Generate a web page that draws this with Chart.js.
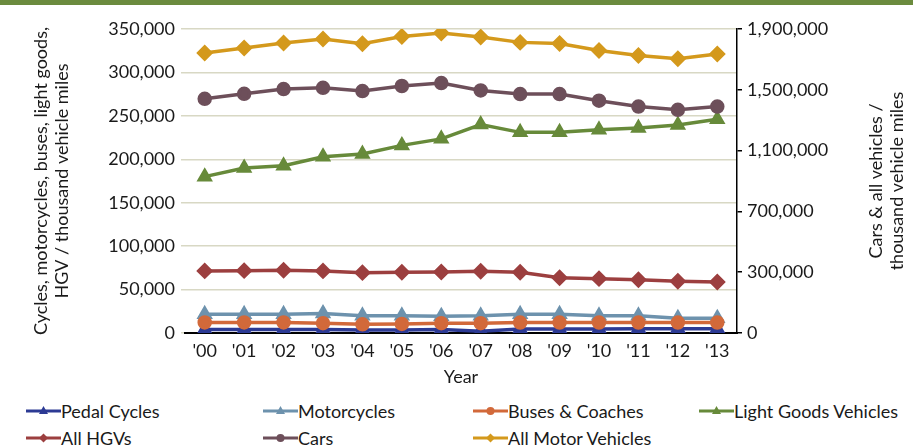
<!DOCTYPE html>
<html lang="en">
<head>
  <meta charset="UTF-8" />
  <title>Traffic by vehicle type, 2000-2013</title>
  <script src="https://cdn.jsdelivr.net/npm/chart.js@4.4.0/dist/chart.umd.min.js"></script>
  <style>
    body { margin: 0; width: 913px; height: 448px; background: #fff; position: relative; overflow: hidden; font-family: Lato, "Open Sans", sans-serif; }
    .topbar { position: absolute; left: 0; top: 0; width: 913px; height: 5px; background: #6b8b3e; z-index: 2; }
    .wrap { position: absolute; left: 0; top: 0; width: 913px; height: 398px; }
    .legend-item { position: absolute; display: flex; align-items: center; font-size: 18px; color: #1a1a1a; height: 22px; white-space: nowrap; }
  </style>
</head>
<body>
  <div class="topbar"></div>
  <div class="wrap"><canvas id="trafficChart"></canvas></div>
  <div id="legend"></div>

  <script>
    // data (thousand vehicle miles)
    const years = ["'00", "'01", "'02", "'03", "'04", "'05", "'06", "'07", "'08", "'09", "'10", "'11", "'12", "'13"];
    const pedalCycles = [4000, 4000, 4000, 4000, 3500, 3500, 4000, 2000, 4500, 4500, 4500, 5000, 5000, 5000];
    const motorcycles = [21500, 21500, 21500, 22500, 19800, 19800, 19300, 19800, 21500, 21500, 19800, 19800, 17000, 17000];
    const buses = [12200, 12200, 12200, 11300, 10000, 10500, 11300, 11300, 12000, 12000, 12000, 12000, 12000, 12000];
    const lightGoods = [180000, 190000, 192500, 203000, 206000, 216000, 223500, 240000, 231000, 231000, 234000, 236000, 239500, 246000];
    const hgvs = [71500, 71800, 72200, 71500, 69500, 70000, 70300, 71100, 70000, 63700, 62600, 61400, 59600, 58800];
    const cars = [1441000, 1474000, 1505000, 1513000, 1492000, 1525000, 1544000, 1496000, 1472000, 1472000, 1428000, 1390000, 1368000, 1390000];
    const allMotor = [1742000, 1775000, 1808000, 1834000, 1803000, 1851000, 1874000, 1847000, 1812000, 1805000, 1759000, 1726000, 1704000, 1735000];

    const leftTickLabels = ["0", "50,000", "100,000", "150,000", "200,000", "250,000", "300,000", "350,000"];
    const rightTickLabels = ["0", "300,000", "700,000", "1,100,000", "1,500,000", "1,900,000"];

    const seriesNames = ["Pedal Cycles", "Motorcycles", "Buses & Coaches", "Light Goods Vehicles", "All HGVs", "Cars", "All Motor Vehicles"];
    const seriesColors = ["#2c3a94", "#6d92ad", "#d2693a", "#678a3a", "#9c3f3f", "#6d4f5a", "#d4991c"];
    const seriesMarkers = ["triangle", "triangle", "circle", "triangle", "rectRot", "circle", "rectRot"];
    const seriesData = [pedalCycles, motorcycles, buses, lightGoods, hgvs, cars, allMotor];
    const seriesAxis = ["y", "y", "y", "y", "y", "y2", "y2"];

    const FONT = "Lato, 'Open Sans', sans-serif";
    const TEXT = "#1a1a1a";
    const GRID = "#d8d8c4";

    const datasets = seriesNames.map((name, i) => ({
      label: name,
      data: seriesData[i],
      yAxisID: seriesAxis[i],
      borderColor: seriesColors[i],
      backgroundColor: seriesColors[i],
      pointBackgroundColor: seriesColors[i],
      pointBorderColor: seriesColors[i],
      pointStyle: seriesMarkers[i],
      pointRadius: seriesMarkers[i] === "circle" ? 5.5 : 6,
      borderWidth: 3.5,
      tension: 0,
    })).reverse(); // draw the low series last so they sit on top

    // right axis title reads bottom-to-top like the left one
    const rightTitle = {
      id: "rightTitle",
      afterDraw(chart) {
        const ctx = chart.ctx;
        const area = chart.chartArea;
        const cy = (area.top + area.bottom) / 2;
        ctx.save();
        ctx.fillStyle = TEXT;
        ctx.font = "18px " + FONT;
        ctx.textAlign = "center";
        ctx.textBaseline = "middle";
        [["Cars & all vehicles /", 876], ["thousand vehicle miles", 897]].forEach(([t, x]) => {
          ctx.save();
          ctx.translate(x, cy);
          ctx.rotate(-Math.PI / 2);
          ctx.fillText(t, 0, 0);
          ctx.restore();
        });
        ctx.restore();
      },
    };

    const trafficChart = new Chart(document.getElementById("trafficChart"), {
      type: "line",
      data: { labels: years, datasets: datasets },
      options: {
        responsive: true,
        maintainAspectRatio: false,
        animation: false,
        layout: { padding: { top: 29, bottom: 0, left: 0, right: 0 } },
        plugins: { legend: { display: false }, tooltip: { enabled: false } },
        scales: {
          x: {
            offset: true,
            grid: { display: false, drawTicks: false },
            border: { display: true, color: "#000", width: 2 },
            ticks: { color: TEXT, font: { family: FONT, size: 18 }, padding: 7, maxRotation: 0, autoSkip: false },
            title: { display: true, text: "Year", color: TEXT, font: { family: FONT, size: 18 }, padding: { top: 0, bottom: 10 } },
            afterFit: (s) => { s.height = 65; },
          },
          y: {
            position: "left",
            min: 0,
            max: 350000,
            ticks: {
              stepSize: 50000,
              color: TEXT,
              font: { family: FONT, size: 18 },
              padding: 6,
              callback: (v, i) => leftTickLabels[i],
            },
            grid: { color: GRID, lineWidth: 1.5, tickLength: 4 },
            border: { display: false },
            title: {
              display: true,
              text: ["Cycles, motorcycles, buses, light goods,", "HGV / thousand vehicle miles"],
              color: TEXT,
              font: { family: FONT, size: 18, lineHeight: 1.15 },
              padding: { top: 31, bottom: 0 },
            },
            afterFit: (s) => { s.width = 185; },
          },
          y2: {
            position: "right",
            min: -100000,
            max: 1900000,
            ticks: {
              stepSize: 400000,
              color: TEXT,
              font: { family: FONT, size: 18 },
              padding: 5,
              callback: (v, i) => rightTickLabels[i],
            },
            grid: { drawOnChartArea: false, color: "#000", tickLength: 5, lineWidth: 1.5 },
            border: { display: true, color: "#000", width: 1.5 },
            afterFit: (s) => { s.width = 176; },
          },
        },
      },
      plugins: [rightTitle],
    });

    // html legend laid out in columns like the original
    const legendCols = [26, 263, 473, 699];
    const legendRows = [400, 427];
    const legend = document.getElementById("legend");
    seriesNames.forEach((name, i) => {
      const item = document.createElement("div");
      item.className = "legend-item";
      item.style.left = legendCols[i % 4] + "px";
      item.style.top = legendRows[Math.floor(i / 4)] + "px";
      const c = document.createElement("canvas");
      c.width = 35; c.height = 14;
      const g = c.getContext("2d");
      g.strokeStyle = seriesColors[i];
      g.fillStyle = seriesColors[i];
      g.lineWidth = 3;
      g.beginPath(); g.moveTo(0, 7); g.lineTo(35, 7); g.stroke();
      g.beginPath();
      if (seriesMarkers[i] === "triangle") { g.moveTo(17.5, 2); g.lineTo(22, 10); g.lineTo(13, 10); }
      else if (seriesMarkers[i] === "circle") { g.arc(17.5, 7, 4, 0, Math.PI * 2); }
      else { g.moveTo(17.5, 2.5); g.lineTo(22, 7); g.lineTo(17.5, 11.5); g.lineTo(13, 7); }
      g.closePath(); g.fill();
      item.appendChild(c);
      const t = document.createElement("span");
      t.textContent = name;
      item.appendChild(t);
      legend.appendChild(item);
    });
  </script>
</body>
</html>
